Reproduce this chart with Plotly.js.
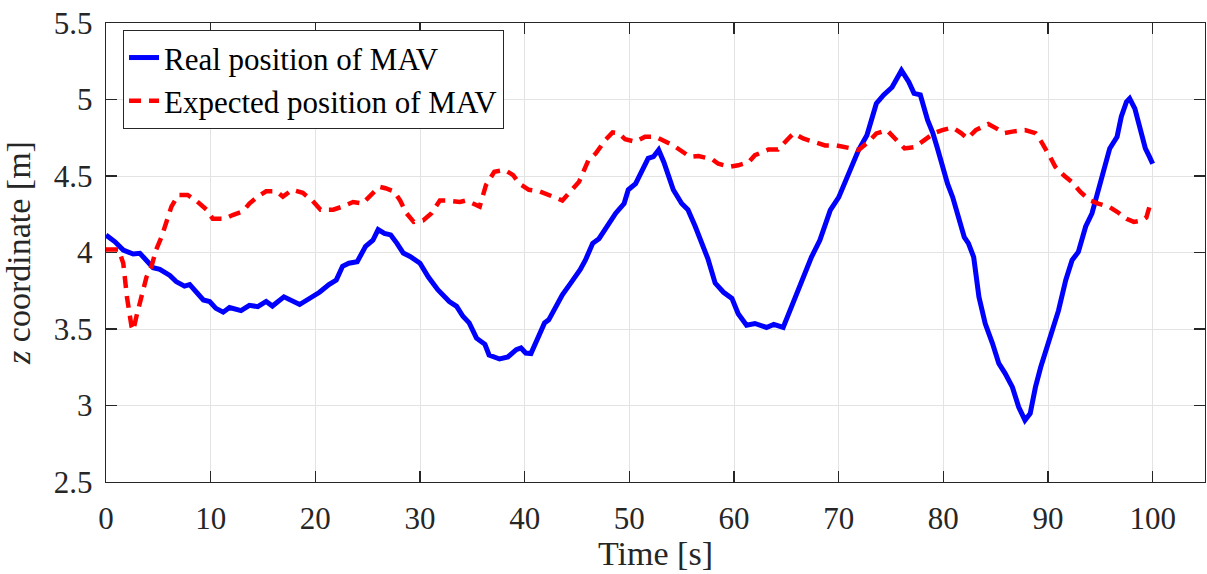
<!DOCTYPE html>
<html>
<head>
<meta charset="utf-8">
<script src="https://cdn.plot.ly/plotly-3.0.1.min.js"></script>
<style>html,body{margin:0;padding:0;background:#fff;}#chart{width:1207px;height:574px;}</style>
</head>
<body>
<div id="chart"></div>
<script>
// Real position of MAV (blue)
const realTime = [0,0.86,1.65,2.6,3.24,3.87,4.5,5.14,6.1,6.7,7.5,8.0,8.6,9.3,9.9,10.5,11.2,11.8,12.9,13.7,14.5,15.3,15.9,17.0,18.5,19.4,20.4,21.3,22.0,22.6,23.2,24.0,24.8,25.5,26.0,26.6,27.2,27.8,28.4,29.05,30.0,30.8,31.7,32.8,33.5,34.1,34.7,35.4,36.2,36.6,37.6,38.4,39.2,39.65,40.1,40.6,41.2,41.9,42.3,43.0,43.6,44.4,45.3,45.8,46.5,47.1,47.9,48.7,49.5,49.9,50.6,51.2,51.8,52.3,52.8,53.3,53.9,54.2,55.0,55.6,56.3,56.9,57.5,58.2,59.0,59.8,60.4,61.2,62.0,63.1,63.8,64.7,65.5,66.5,67.4,68.2,69.2,70.0,70.9,71.9,72.7,73.6,74.3,75.1,76.0,76.7,77.2,77.8,78.5,79.0,79.4,79.9,80.4,80.9,81.5,82.0,82.4,82.9,83.4,84.0,84.7,85.3,85.9,86.6,87.2,87.8,88.3,88.8,89.3,89.9,90.5,91.0,91.7,92.3,92.9,93.6,94.2,94.8,95.5,95.9,96.6,97.0,97.5,97.8,98.3,98.8,99.3,99.7,100];
const realZ = [4.114,4.07,4.016,3.99,3.995,3.95,3.90,3.89,3.85,3.81,3.78,3.79,3.74,3.69,3.68,3.635,3.61,3.64,3.62,3.655,3.646,3.68,3.65,3.71,3.66,3.70,3.74,3.79,3.82,3.91,3.93,3.94,4.04,4.08,4.15,4.125,4.115,4.06,3.996,3.974,3.93,3.84,3.757,3.68,3.648,3.583,3.54,3.44,3.40,3.33,3.304,3.317,3.365,3.376,3.343,3.34,3.43,3.54,3.56,3.648,3.724,3.80,3.887,3.95,4.06,4.09,4.18,4.257,4.32,4.41,4.45,4.53,4.615,4.626,4.67,4.59,4.474,4.41,4.32,4.28,4.17,4.06,3.96,3.80,3.74,3.70,3.60,3.525,3.536,3.51,3.53,3.51,3.645,3.82,3.97,4.08,4.277,4.36,4.516,4.67,4.767,4.974,5.03,5.08,5.19,5.115,5.04,5.03,4.865,4.78,4.69,4.57,4.45,4.36,4.21,4.10,4.06,3.97,3.71,3.536,3.405,3.275,3.21,3.12,2.99,2.904,2.948,3.12,3.25,3.38,3.536,3.62,3.82,3.95,4.004,4.17,4.255,4.41,4.56,4.68,4.756,4.887,4.985,5.006,4.94,4.81,4.68,4.625,4.58];

// Expected position of MAV (red dashed)
const expTime = [0,1.2,1.65,2.0,2.44,2.6,2.9,3.4,3.87,4.35,4.8,5.3,5.8,6.25,6.9,7.8,8.6,9.6,10.2,11.3,12.1,13.1,13.7,14.5,15.3,16.3,16.9,17.8,18.8,19.7,20.5,21.7,22.6,23.6,24.5,25.5,26.1,26.7,27.5,28.1,28.7,29.4,30.3,31.1,31.9,32.5,33.8,34.4,35.7,36.3,37.1,38.1,38.9,39.5,40.4,41.4,42.0,42.7,43.6,44.2,45.2,46.1,46.8,47.7,48.4,49.0,49.6,50.6,51.5,52.5,53.4,54.2,55.8,56.6,57.9,58.5,59.6,60.4,61.4,62.0,63.3,64.2,65.2,65.7,66.6,67.6,68.7,69.8,70.9,71.9,72.8,73.6,74.6,75.4,76.3,77.3,78.2,79.1,79.9,80.9,81.7,82.3,83.1,84.3,85.1,85.8,86.6,87.8,88.8,89.4,90.2,90.7,91.5,92.3,93.1,94.0,94.8,95.8,96.6,97.5,98.2,99.0,99.4,99.7,100];
const expZ = [4.02,4.02,3.93,3.71,3.515,3.49,3.58,3.71,3.84,3.91,4.02,4.10,4.21,4.30,4.376,4.376,4.34,4.28,4.22,4.22,4.245,4.27,4.32,4.365,4.40,4.40,4.365,4.41,4.39,4.34,4.28,4.28,4.30,4.33,4.32,4.387,4.43,4.42,4.40,4.34,4.257,4.20,4.21,4.257,4.34,4.34,4.33,4.34,4.30,4.44,4.528,4.54,4.506,4.45,4.41,4.40,4.387,4.365,4.34,4.387,4.463,4.604,4.648,4.735,4.785,4.78,4.74,4.724,4.757,4.757,4.724,4.70,4.625,4.63,4.61,4.58,4.56,4.57,4.59,4.636,4.673,4.673,4.745,4.78,4.745,4.72,4.70,4.70,4.684,4.67,4.72,4.778,4.80,4.745,4.68,4.69,4.734,4.78,4.80,4.817,4.78,4.745,4.80,4.84,4.81,4.78,4.79,4.80,4.78,4.72,4.625,4.56,4.505,4.46,4.396,4.34,4.32,4.30,4.266,4.22,4.20,4.21,4.23,4.30,4.31];

const xTicks = [0,10,20,30,40,50,60,70,80,90,100];
const yTicks = [2.5,3,3.5,4,4.5,5,5.5];
const yTickText = ['2.5','3','3.5','4','4.5','5','5.5'];

const FONT = '"Liberation Serif", serif';
const INK = '#262626';

const traces = [
  {x: realTime, y: realZ, type: 'scatter', mode: 'lines', name: 'Real position of MAV',
   line: {color: '#0000ff', width: 5}},
  {x: expTime, y: expZ, type: 'scatter', mode: 'lines', name: 'Expected position of MAV',
   line: {color: '#ff0000', width: 4.5, dash: '12px,8px'}}
];

const axisCommon = {
  showline: true, linecolor: INK, linewidth: 1.3, mirror: 'ticks',
  ticks: 'inside', ticklen: 11, tickwidth: 1.3, tickcolor: INK,
  showgrid: true, gridcolor: '#e3e3e3', gridwidth: 1,
  zeroline: false, tickfont: {family: FONT, size: 31, color: INK}
};

const layout = {
  width: 1207, height: 574,
  margin: {l: 106, r: 2, t: 23, b: 92},
  paper_bgcolor: '#ffffff', plot_bgcolor: '#ffffff',
  font: {family: FONT, color: INK},
  showlegend: true,
  legend: {x: 0.0155, y: 0.985, xanchor: 'left', yanchor: 'top',
    bgcolor: '#ffffff', bordercolor: INK, borderwidth: 1,
    font: {family: FONT, size: 31, color: '#000'}, itemwidth: 30, tracegroupgap: 0},
  xaxis: Object.assign({}, axisCommon, {
    range: [0, 105], tickvals: xTicks, ticktext: xTicks.map(String), ticklabelstandoff: 8,
    title: {text: 'Time [s]', font: {family: FONT, size: 34, color: INK}, standoff: 0}
  }),
  yaxis: Object.assign({}, axisCommon, {
    range: [2.5, 5.5], tickvals: yTicks, ticktext: yTickText, ticklabelstandoff: 6,
    title: {text: '<i>z</i> coordinate [m]', font: {family: FONT, size: 34, color: INK}, standoff: 14}
  })
};

Plotly.newPlot('chart', traces, layout, {displayModeBar: false, staticPlot: true});
</script>
</body>
</html>
